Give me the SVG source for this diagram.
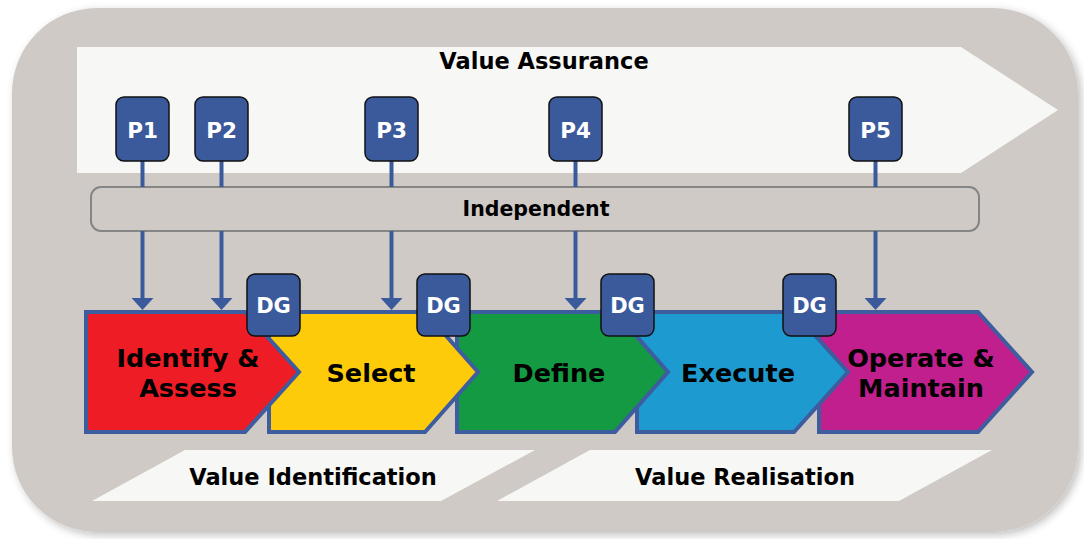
<svg xmlns="http://www.w3.org/2000/svg" width="1084" height="539" viewBox="0 0 1084 539">
  <defs>
    <filter id="softShadow" x="-5%" y="-5%" width="110%" height="110%">
      <feGaussianBlur in="SourceAlpha" stdDeviation="4"/>
      <feOffset dx="3" dy="3" result="blur"/>
      <feFlood flood-color="#000" flood-opacity="0.25"/>
      <feComposite in2="blur" operator="in"/>
      <feMerge><feMergeNode/><feMergeNode in="SourceGraphic"/></feMerge>
    </filter>
    <marker id="head" viewBox="0 0 12 22" refX="1" refY="11" markerWidth="12" markerHeight="22" markerUnits="userSpaceOnUse" orient="auto">
      <path d="M0,0 L12,11 L0,22 Z" fill="#3A5A9C"/>
    </marker>
  </defs>
  <style>
    text { font-family: "DejaVu Sans", Verdana, sans-serif; font-weight: bold; text-anchor: middle; }
    .band { fill: #F7F7F5; }
    .badge { fill: #3A5A9C; stroke: #111; stroke-width: 1.5; }
    .badgeText { fill: #FFFFFF; font-size: 21.5px; }
    .gateText { fill: #FFFFFF; font-size: 21px; }
    .stage { stroke: #3D5D9E; stroke-width: 4; stroke-linejoin: miter; }
    .stageText { fill: #000; font-size: 25.5px; }
    .bandText { fill: #000; font-size: 22.5px; }
    .link { stroke: #3A5A9C; stroke-width: 4; fill: none; }
  </style>

  <!-- panel -->
  <rect x="12" y="8" width="1066" height="524" rx="85" ry="85" fill="#CFCAC6" filter="url(#softShadow)"/>

  <!-- top band -->
  <g id="value-assurance">
    <polygon class="band" points="77,47 961,47 1058,110 961,173 77,173"/>
    <text class="bandText" x="544" y="69">Value Assurance</text>
  </g>

  <!-- independent bar -->
  <g id="independent">
    <rect x="91" y="187" width="888" height="44" rx="10" ry="10" fill="#CFCAC6" stroke="#858585" stroke-width="2"/>
    <text x="536" y="216" font-size="20.5px" fill="#000">Independent</text>
  </g>

  <!-- connectors from P badges to the stages -->
  <g id="connectors">
    <line class="link" x1="142.5" y1="161" x2="142.5" y2="187"/>
    <line class="link" x1="221.5" y1="161" x2="221.5" y2="187"/>
    <line class="link" x1="391.5" y1="161" x2="391.5" y2="187"/>
    <line class="link" x1="575.5" y1="161" x2="575.5" y2="187"/>
    <line class="link" x1="875.5" y1="161" x2="875.5" y2="187"/>
    <line class="link" x1="142.5" y1="231" x2="142.5" y2="299" marker-end="url(#head)"/>
    <line class="link" x1="221.5" y1="231" x2="221.5" y2="299" marker-end="url(#head)"/>
    <line class="link" x1="391.5" y1="231" x2="391.5" y2="299" marker-end="url(#head)"/>
    <line class="link" x1="575.5" y1="231" x2="575.5" y2="299" marker-end="url(#head)"/>
    <line class="link" x1="875.5" y1="231" x2="875.5" y2="299" marker-end="url(#head)"/>
  </g>

  <!-- P badges -->
  <g id="p1"><rect class="badge" x="116" y="97" width="53" height="64" rx="8"/><text class="badgeText" x="142.5" y="138">P1</text></g>
  <g id="p2"><rect class="badge" x="195" y="97" width="53" height="64" rx="8"/><text class="badgeText" x="221.5" y="138">P2</text></g>
  <g id="p3"><rect class="badge" x="365" y="97" width="53" height="64" rx="8"/><text class="badgeText" x="391.5" y="138">P3</text></g>
  <g id="p4"><rect class="badge" x="549" y="97" width="53" height="64" rx="8"/><text class="badgeText" x="575.5" y="138">P4</text></g>
  <g id="p5"><rect class="badge" x="849" y="97" width="53" height="64" rx="8"/><text class="badgeText" x="875.5" y="138">P5</text></g>

  <!-- stages, drawn right to left so each overlaps the next -->
  <g id="operate-maintain">
    <polygon class="stage" fill="#C11F8D" points="819,312 978,312 1032,372 978,432 819,432"/>
    <text class="stageText" x="921" y="367">Operate &amp;</text>
    <text class="stageText" x="921" y="397">Maintain</text>
  </g>
  <g id="execute">
    <polygon class="stage" fill="#1D9BD1" points="637,312 794,312 848,372 794,432 637,432"/>
    <text class="stageText" x="738" y="382">Execute</text>
  </g>
  <g id="define">
    <polygon class="stage" fill="#139A43" points="457,312 615,312 668,372 615,432 457,432"/>
    <text class="stageText" x="559" y="382">Define</text>
  </g>
  <g id="select">
    <polygon class="stage" fill="#FDCB0A" points="269,312 425,312 478,372 425,432 269,432"/>
    <text class="stageText" x="371" y="382">Select</text>
  </g>
  <g id="identify-assess">
    <polygon class="stage" fill="#EE1C25" points="86,312 245,312 299,372 245,432 86,432"/>
    <text class="stageText" x="188" y="367">Identify &amp;</text>
    <text class="stageText" x="188" y="397">Assess</text>
  </g>

  <!-- decision gates -->
  <g id="dg1"><rect class="badge" x="247" y="274" width="53" height="62" rx="8"/><text class="gateText" x="273.5" y="313">DG</text></g>
  <g id="dg2"><rect class="badge" x="417" y="274" width="53" height="62" rx="8"/><text class="gateText" x="443.5" y="313">DG</text></g>
  <g id="dg3"><rect class="badge" x="601" y="274" width="53" height="62" rx="8"/><text class="gateText" x="627.5" y="313">DG</text></g>
  <g id="dg4"><rect class="badge" x="783" y="274" width="53" height="62" rx="8"/><text class="gateText" x="809.5" y="313">DG</text></g>

  <!-- lower bands -->
  <g id="value-identification">
    <polygon class="band" points="185,450 535,450 441,501 92,501"/>
    <text class="bandText" x="313" y="485">Value Identification</text>
  </g>
  <g id="value-realisation">
    <polygon class="band" points="590,450 992,450 899,501 497,501"/>
    <text class="bandText" x="745" y="485">Value Realisation</text>
  </g>
</svg>
